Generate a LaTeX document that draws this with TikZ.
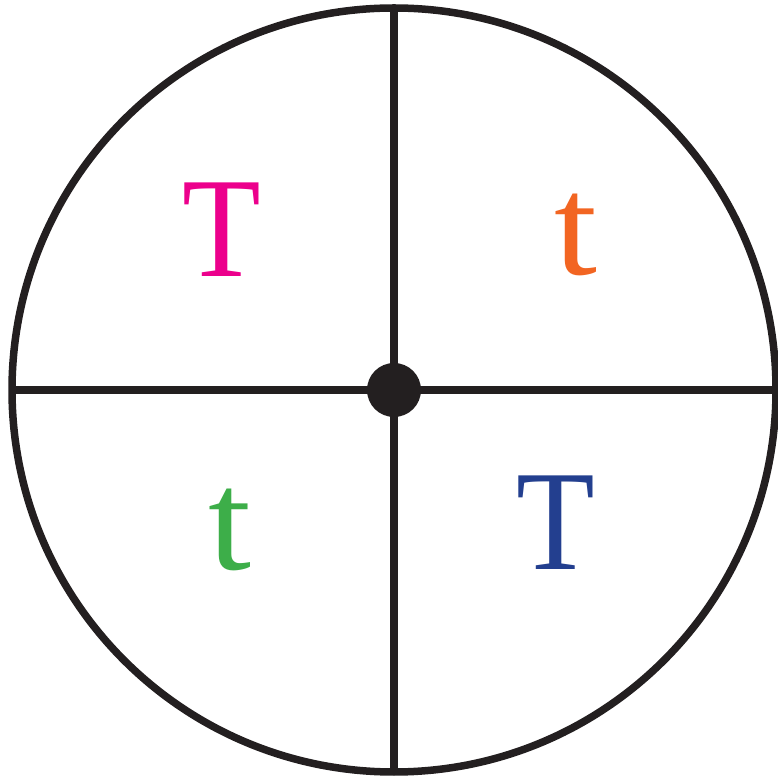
\documentclass[tikz,border=0pt]{standalone}
\usepackage{fontspec}
\setmainfont{Liberation Serif}
\definecolor{ink}{HTML}{231F20}
\definecolor{cmag}{HTML}{EC008C}
\definecolor{corg}{HTML}{F26522}
\definecolor{cgrn}{HTML}{3DAE49}
\definecolor{cblu}{HTML}{233F8F}
\begin{document}
\begin{tikzpicture}[x=1pt,y=1pt,
  letter/.style={inner sep=0pt,anchor=base,font=\fontsize{143}{143}\selectfont,xscale=0.9},
  small/.style={inner sep=0pt,anchor=base,font=\fontsize{143}{143}\selectfont,xscale=1.08},
  rim/.style={draw=ink,line width=7.5pt}]
\useasboundingbox (0,0) rectangle (777,779);
\coordinate (c) at (394,389);
\draw[rim] (c) circle (382);
\coordinate (top) at (394,771);
\coordinate (bot) at (394,7);
\coordinate (lft) at (12,389);
\coordinate (rgt) at (776,389);
\draw[rim] (top) -- (bot);
\draw[rim] (lft) -- (rgt);
\fill[ink] (c) circle (27);
\node[letter,text=cmag] (T1) at (222,502) {T};
\node[small,text=corg] (t1) at (576,504) {t};
\node[small,text=cgrn] (t2) at (230,209) {t};
\node[letter,text=cblu] (T2) at (556,209) {T};
\end{tikzpicture}
\end{document}
